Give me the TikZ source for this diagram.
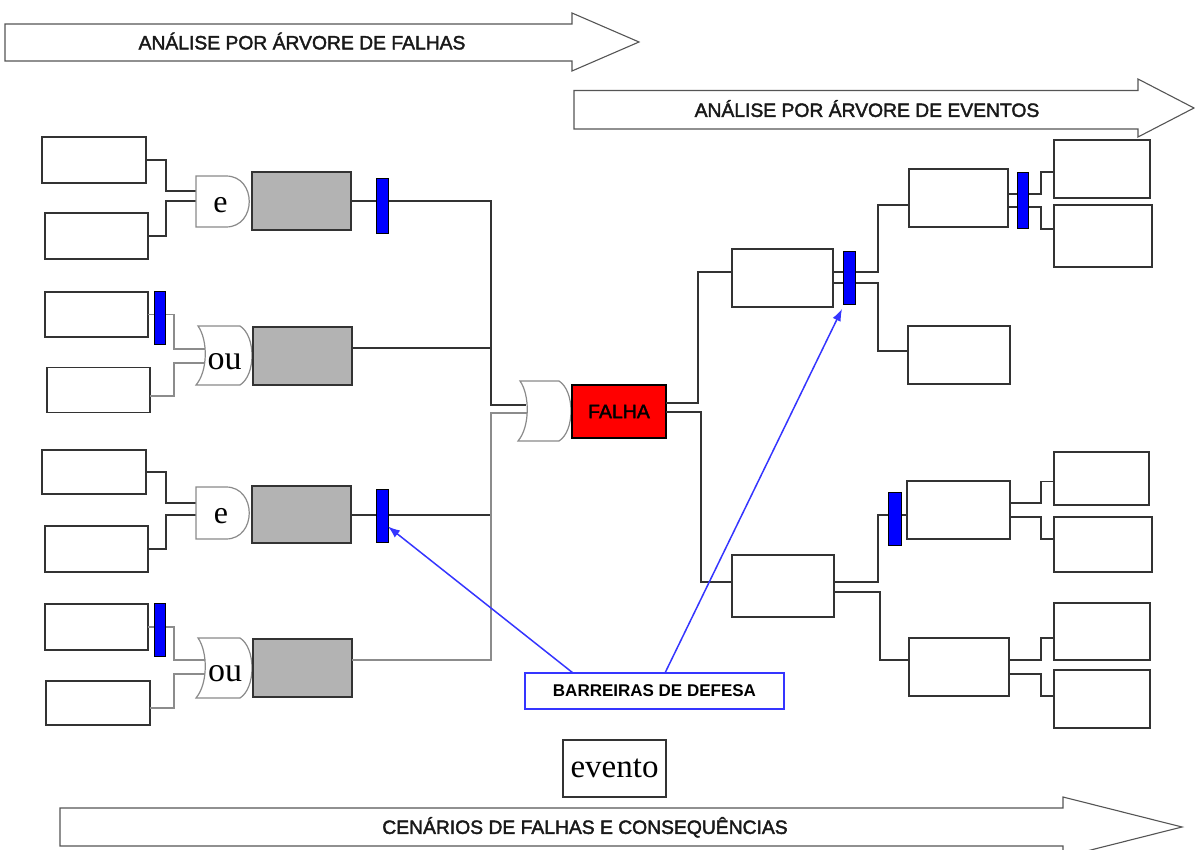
\documentclass[tikz,border=0pt]{standalone}
\usepackage{fontspec}
\setmainfont{Liberation Serif}
\newfontfamily\arialf{Liberation Sans}
\newfontfamily\arialh{Liberation Sans}[FakeBold=2]
\usetikzlibrary{arrows.meta,calc}
\definecolor{gbox}{HTML}{B3B3B3}
\definecolor{lineg}{HTML}{333333}
\definecolor{bbar}{HTML}{0000FF}
\definecolor{barrow}{HTML}{3535FF}
\definecolor{outlg}{HTML}{555555}
\definecolor{gatec}{HTML}{8A8A8A}
\definecolor{wireg}{HTML}{8C8C8C}
\newcommand\andgate[3]{\draw[gate] (#1,#2) -- (#1+30,#2) .. controls (#1+61,#2) and (#1+61,#3) .. (#1+30,#3) -- (#1,#3) -- cycle;}
\newcommand\orgate[4]{\draw[gate] (#1+2,#2) -- (#3-12,#2) .. controls (#3+4,#2+10) and (#3+4,#4-10) .. (#3-12,#4) -- (#1,#4) .. controls (#1+12,#4-14) and (#1+12,#2+14) .. (#1+2,#2) -- cycle;}
\begin{document}
\begin{tikzpicture}[x=1pt,y=-1pt,line join=miter,
  box/.style={draw=lineg,line width=1.4pt,fill=white,inner sep=0pt,outer sep=0pt},
  graybox/.style={box,fill=gbox},
  barb/.style={draw=black,line width=0.9pt,fill=bbar,inner sep=0pt,outer sep=0pt,minimum width=12pt,minimum height=54pt},
  wire/.style={draw=lineg,line width=1.3pt},
  wirel/.style={draw=wireg,line width=1.3pt},
  gate/.style={draw=gatec,line width=1.2pt,fill=white},
  bigarr/.style={draw=outlg,line width=1.1pt,fill=white},
  ttl/.style={font=\arialh\fontsize{19.3}{23}\selectfont,text=black!90,inner sep=0pt,text height=13.8pt,text depth=0pt},
  glab/.style={font=\fontsize{32}{36}\selectfont,inner sep=0pt},
  barr/.style={draw=barrow,line width=1.5pt,-{Latex[length=12pt,width=9pt]}}]
\useasboundingbox (0,0) rectangle (1195,850);
\clip (0,0) rectangle (1195,850);

% big arrows
\draw[bigarr] (5,24) -- (572,24) -- (572,13) -- (639,42) -- (572,71) -- (572,61) -- (5,61) -- cycle;
\node[ttl] (t1) at (302,42.5) {ANÁLISE POR ÁRVORE DE FALHAS};
\draw[bigarr] (574,90.5) -- (1138,90.5) -- (1138,79) -- (1194,108) -- (1138,137) -- (1138,129) -- (574,129) -- cycle;
\node[ttl] (t2) at (867,110) {ANÁLISE POR ÁRVORE DE EVENTOS};
\draw[bigarr] (60,808) -- (1063,808) -- (1063,797) -- (1182,827) -- (1063,857) -- (1063,846) -- (60,846) -- cycle;
\node[ttl] (t3) at (585,827) {CENÁRIOS DE FALHAS E CONSEQUÊNCIAS};

% left input boxes
\node[box,minimum width=104pt,minimum height=46pt] (b1) at (94,160) {};
\node[box,minimum width=103pt,minimum height=46pt] (b2) at (96.5,236) {};
\node[box,minimum width=103pt,minimum height=45pt] (b3) at (96.5,314.5) {};
\node[box,minimum width=103pt,minimum height=45pt] (b4) at (98.5,390) {};
\node[box,minimum width=104pt,minimum height=44pt] (b5) at (94,472) {};
\node[box,minimum width=103pt,minimum height=46pt] (b6) at (96.5,549) {};
\node[box,minimum width=103pt,minimum height=46pt] (b7) at (96.5,627) {};
\node[box,minimum width=104pt,minimum height=44pt] (b8) at (98,703) {};

% gate input points
\coordinate (a1i1) at (196,191);
\coordinate (a1i2) at (196,201);
\coordinate (o1i1) at (205,349);
\coordinate (o1i2) at (205,363);
\coordinate (a2i1) at (196,503);
\coordinate (a2i2) at (196,515);
\coordinate (o2i1) at (205,660);
\coordinate (o2i2) at (205,674);
\coordinate (oc1) at (526,405);
\coordinate (oc2) at (527,413);

% left wires
\draw[wire] (b1.east) -- ++(20,0) |- (a1i1);
\draw[wire] (b2.east) -- ++(18,0) |- (a1i2);
\draw[wirel] (b3.east) -- ++(26,0) |- (o1i1);
\draw[wirel] ($(b4.east)+(0,6)$) -- ++(24,0) |- (o1i2);
\draw[wire] (b5.east) -- ++(20,0) |- (a2i1);
\draw[wire] (b6.east) -- ++(18,0) |- (a2i2);
\draw[wirel] (b7.east) -- ++(26,0) |- (o2i1);
\draw[wirel] ($(b8.east)+(0,5)$) -- ++(24,0) |- (o2i2);

% gates
\andgate{196}{176}{227}
\orgate{196}{326}{252}{385}
\andgate{196}{487}{539}
\orgate{196}{638}{252}{698}
\orgate{518}{381}{571}{441}
\node[glab] (la1) at (220.5,205) {e};
\node[glab,font=\fontsize{34}{38}\selectfont] (lo1) at (224.5,362) {ou};
\node[glab] (la2) at (221,516.5) {e};
\node[glab,font=\fontsize{34}{38}\selectfont] (lo2) at (225,674) {ou};

% gray boxes
\node[graybox,minimum width=99pt,minimum height=58pt] (g1) at (301.5,201) {};
\node[graybox,minimum width=99pt,minimum height=58pt] (g2) at (302.5,356) {};
\node[graybox,minimum width=99pt,minimum height=57pt] (g3) at (301.5,514.5) {};
\node[graybox,minimum width=99pt,minimum height=58pt] (g4) at (302.5,668) {};

% wires to central gate
\draw[wire] (g1.east) -- ++(140,0) |- (oc1);
\draw[wire] ($(g2.east)+(0,-8)$) -- ++(139,0);
\draw[wire] ($(g3.east)+(0,0.5)$) -- ++(140,0);
\draw[wirel] ($(g4.east)+(0,-8)$) -- ++(139,0) |- (oc2);

% FALHA
\node[box,draw=black,fill=red,minimum width=94pt,minimum height=53pt,font=\arialh\fontsize{19.5}{23}\selectfont] (f) at (619,411.5) {FALHA};

% right boxes
\node[box,minimum width=101pt,minimum height=58pt] (r1) at (782.5,278) {};
\node[box,minimum width=99pt,minimum height=58pt] (r2) at (958.5,198) {};
\node[box,minimum width=102pt,minimum height=58pt] (r3) at (959,355) {};
\node[box,minimum width=96pt,minimum height=58pt] (r4) at (1102,169) {};
\node[box,minimum width=98pt,minimum height=62pt] (r5) at (1103,236) {};
\node[box,minimum width=102pt,minimum height=62pt] (r6) at (783,586) {};
\node[box,minimum width=103pt,minimum height=58pt] (r7) at (958.5,510) {};
\node[box,minimum width=100pt,minimum height=58pt] (r8) at (959,667) {};
\node[box,minimum width=95pt,minimum height=53pt] (r9) at (1101.5,478.5) {};
\node[box,minimum width=98pt,minimum height=55pt] (r10) at (1103,544.5) {};
\node[box,minimum width=96pt,minimum height=57pt] (r11) at (1102,631.5) {};
\node[box,minimum width=96pt,minimum height=58pt] (r12) at (1102,699) {};

% right wires
\draw[wire] ($(f.east)+(0,-8.5)$) -- ++(32,0) |- ($(r1.west)+(0,-6)$);
\draw[wire] ($(f.east)+(0,0.5)$) -- ++(35,0) |- ($(r6.west)+(0,-4)$);
\draw[wire] ($(r1.east)+(0,-6)$) -- ++(45,0) |- ($(r2.west)+(0,7)$);
\draw[wire] ($(r1.east)+(0,5)$) -- ++(45,0) |- ($(r3.west)+(0,-4)$);
\draw[wire] ($(r2.east)+(0,-4)$) -- ++(33,0) |- ($(r4.west)+(0,3)$);
\draw[wire] ($(r2.east)+(0,9)$) -- ++(33,0) |- ($(r5.west)+(0,-7)$);
\draw[wire] ($(r6.east)+(0,-4)$) -- ++(44,0) |- ($(r7.west)+(0,5)$);
\draw[wire] ($(r6.east)+(0,6)$) -- ++(46,0) |- ($(r8.west)+(0,-7)$);
\draw[wire] ($(r7.east)+(0,-7)$) -- ++(31,0) |- ($(r9.west)+(0,3)$);
\draw[wire] ($(r7.east)+(0,7)$) -- ++(31,0) |- ($(r10.west)+(0,-5.5)$);
\draw[wire] ($(r8.east)+(0,-7)$) -- ++(32,0) |- ($(r11.west)+(0,6.5)$);
\draw[wire] ($(r8.east)+(0,7)$) -- ++(32,0) |- ($(r12.west)+(0,-3)$);

% blue barriers
\node[barb,minimum height=55pt] (bar1) at (382,205.5) {};
\node[barb,minimum width=11pt,minimum height=53pt] (bar2) at (159.5,317.5) {};
\node[barb,minimum height=53pt] (bar3) at (382,515.5) {};
\node[barb,minimum width=11pt,minimum height=53pt] (bar4) at (159.5,629.5) {};
\node[barb,minimum height=53pt] (bar5) at (849,277.5) {};
\node[barb,minimum width=11pt,minimum height=56pt] (bar6) at (1022.5,200) {};
\node[barb,minimum width=13pt,minimum height=53pt] (bar7) at (894.5,518.5) {};

% barreiras label and arrows
\node[box,draw=barrow,minimum width=259pt,minimum height=36pt,font=\arialf\bfseries\fontsize{17}{20}\selectfont] (bd) at (654.5,691) {BARREIRAS DE DEFESA};
\draw[barr] ($(bd.north west)+(48,0)$) -- ($(bar3.east)+(0,11)$);
\draw[barr] ($(bd.north west)+(140,0)$) -- ($(bar5.south)+(-7,5)$);

% legend
\node[box,minimum width=103pt,minimum height=57pt,font=\fontsize{33}{38}\selectfont] (ev) at (614.5,768.5) {evento};
\end{tikzpicture}
\end{document}
